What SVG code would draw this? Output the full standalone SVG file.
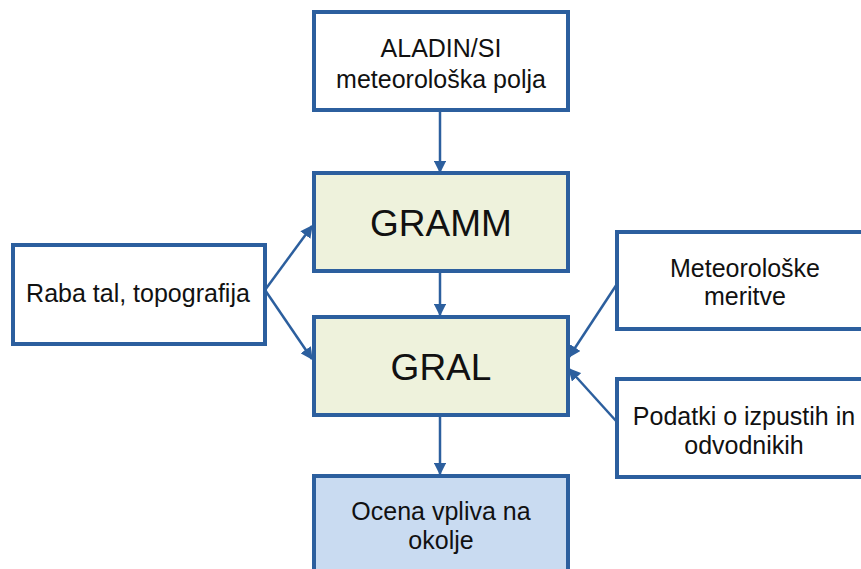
<svg xmlns="http://www.w3.org/2000/svg" width="861" height="569" viewBox="0 0 861 569">
<style>
.box{stroke:#2c5f9e;stroke-width:4;fill:#ffffff}
.model{fill:#eef2dc}
.out{fill:#c9dbf1}
.t{font-family:"Liberation Sans",Arial,sans-serif;font-size:25px;fill:#111;text-anchor:middle}
.big{font-size:37px}
.c{stroke:#2c5f9e;stroke-width:2.5;fill:none;marker-end:url(#ah)}
</style>
<defs>
<marker id="ah" viewBox="0 0 10 10" refX="9" refY="5" markerWidth="5" markerHeight="5" orient="auto" markerUnits="strokeWidth">
<path d="M0,0 L10,5 L0,10 z" fill="#2c5f9e"/>
</marker>
</defs>
<g id="connectors">
<line class="c" x1="440" y1="110" x2="440" y2="172"/>
<line class="c" x1="440" y1="271" x2="440" y2="315"/>
<line class="c" x1="440" y1="415" x2="440" y2="474"/>
<line class="c" x1="265" y1="290" x2="312" y2="226"/>
<line class="c" x1="265" y1="290" x2="312" y2="359"/>
<line class="c" x1="617" y1="284" x2="569" y2="357"/>
<line class="c" x1="617" y1="422" x2="569" y2="369"/>
</g>
<g id="aladin">
<rect class="box" x="314" y="12" width="254" height="98"/>
<text class="t" x="441" y="57">ALADIN/SI</text>
<text class="t" x="441" y="88">meteorološka polja</text>
</g>
<g id="gramm">
<rect class="box model" x="314" y="173" width="254" height="98"/>
<text class="t big" x="441" y="236">GRAMM</text>
</g>
<g id="gral">
<rect class="box model" x="314" y="317" width="254" height="98"/>
<text class="t big" x="441" y="380">GRAL</text>
</g>
<g id="ocena">
<rect class="box out" x="314" y="476" width="254" height="98"/>
<text class="t" x="441" y="520">Ocena vpliva na</text>
<text class="t" x="441" y="549">okolje</text>
</g>
<g id="raba">
<rect class="box" x="13" y="245" width="252" height="99"/>
<text class="t" x="138" y="302">Raba tal, topografija</text>
</g>
<g id="meritve">
<rect class="box" x="617" y="232" width="250" height="97"/>
<text class="t" x="745" y="277">Meteorološke</text>
<text class="t" x="745" y="305">meritve</text>
</g>
<g id="izpusti">
<rect class="box" x="617" y="379" width="250" height="98"/>
<text class="t" x="744" y="425">Podatki o izpustih in</text>
<text class="t" x="744" y="454">odvodnikih</text>
</g>
</svg>
